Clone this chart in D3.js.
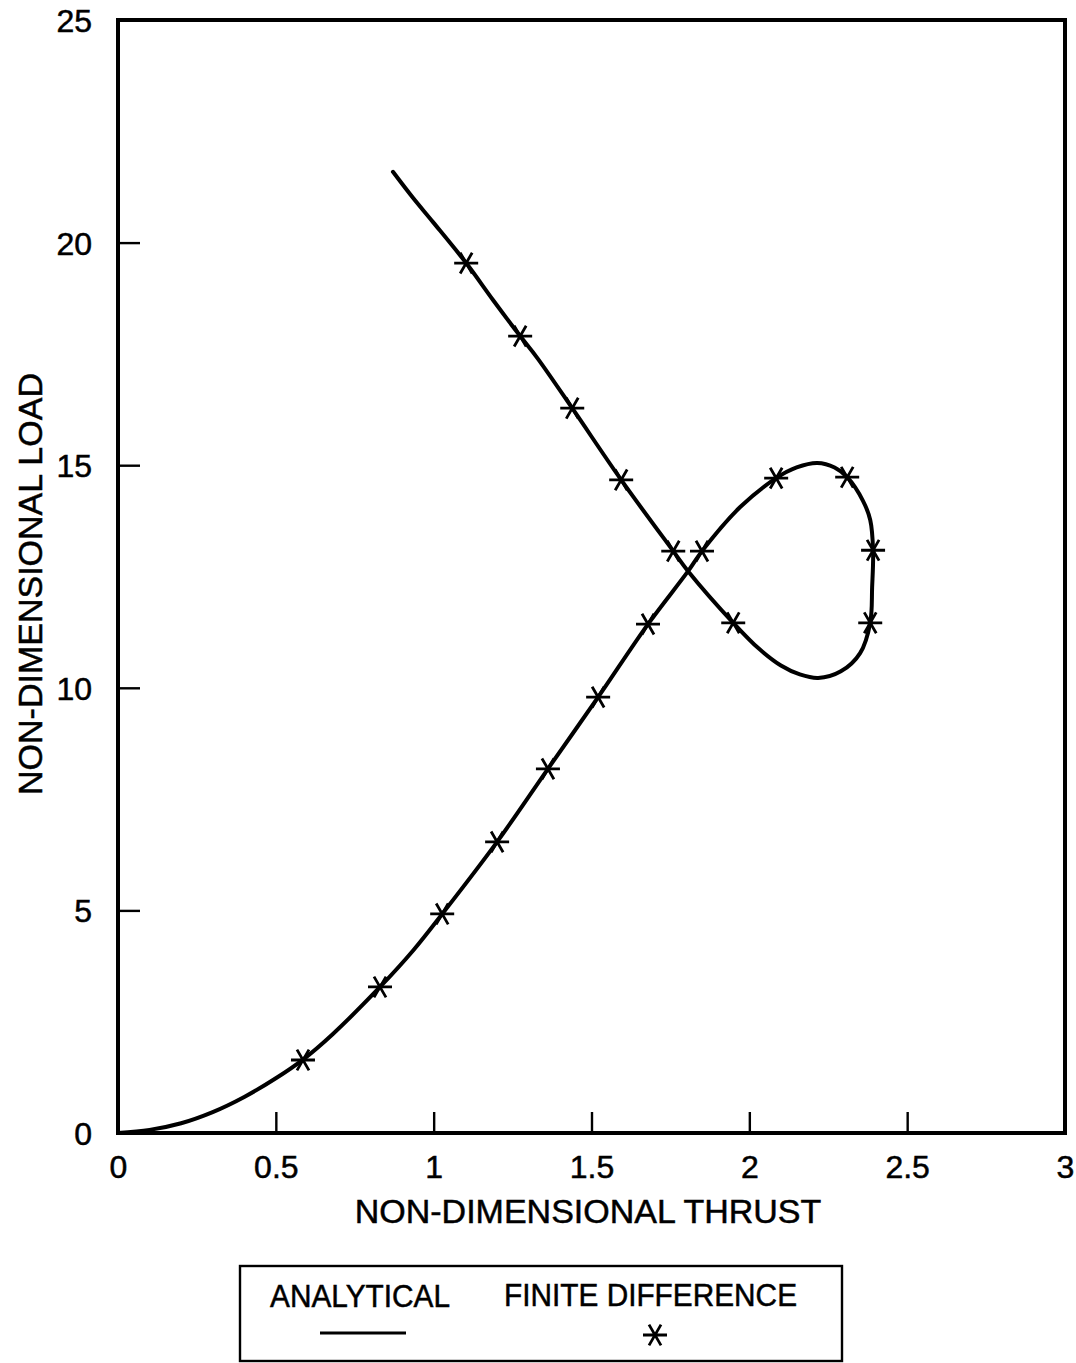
<!DOCTYPE html>
<html>
<head>
<meta charset="utf-8">
<script src="https://cdn.jsdelivr.net/npm/d3@7"></script>
<style>
  html, body { margin: 0; padding: 0; background: #fff; }
  svg { display: block; font-family: "Liberation Sans", Arial, Helvetica, sans-serif; }
  text { stroke: #000; stroke-width: 0.5px; }
</style>
</head>
<body>
<svg id="chart" width="1076" height="1363"></svg>
<script>
// ---- Data ----
// Analytical solution: thrust (x) and load (y)
const analyticalThrust = [0, 0.1, 0.2, 0.3, 0.4, 0.5, 0.586, 0.68, 0.83, 0.935, 1.027, 1.201, 1.362, 1.521,
  1.679, 1.806, 1.85, 1.971, 2.085, 2.15, 2.215, 2.27, 2.31, 2.36, 2.383, 2.392, 2.389, 2.383, 2.351, 2.29,
  2.218, 2.16, 2.1, 2.03, 1.949, 1.806, 1.759, 1.594, 1.439, 1.328, 1.274, 1.188, 1.103, 0.998, 0.935, 0.871];
const analyticalLoad = [0, 0.07, 0.22, 0.47, 0.81, 1.23, 1.65, 2.22, 3.28, 4.1, 4.92, 6.54, 8.18, 9.79,
  11.43, 12.62, 13.07, 14.06, 14.71, 14.95, 15.05, 14.95, 14.73, 14.2, 13.77, 13.09, 12.26, 11.46, 10.78, 10.37,
  10.22, 10.3, 10.5, 10.88, 11.46, 12.62, 13.07, 14.67, 16.28, 17.41, 17.9, 18.71, 19.54, 20.46, 21.0, 21.59];

// Finite difference points
const fdThrust = [0.586, 0.83, 1.027, 1.201, 1.362, 1.521, 1.679, 1.85, 2.085, 2.31, 2.392, 2.383,
  1.949, 1.759, 1.594, 1.439, 1.274, 1.103];
const fdLoad = [1.64, 3.28, 4.92, 6.54, 8.18, 9.79, 11.43, 13.07, 14.71, 14.73, 13.09, 11.46,
  11.46, 13.07, 14.67, 16.28, 17.9, 19.54];

const xTicks = [0, 0.5, 1, 1.5, 2, 2.5, 3];
const yTicks = [0, 5, 10, 15, 20, 25];
const xTickLabels = ["0", "0.5", "1", "1.5", "2", "2.5", "3"];
const yTickLabels = ["0", "5", "10", "15", "20", "25"];
const xTitle = "NON-DIMENSIONAL THRUST";
const yTitle = "NON-DIMENSIONAL LOAD";
const legendLabels = ["ANALYTICAL", "FINITE DIFFERENCE"];

// ---- Layout ----
const L = 118, R = 1065, T = 20, B = 1133;
const svg = d3.select("#chart");
const x = d3.scaleLinear().domain([0, 3]).range([L, R]);
const y = d3.scaleLinear().domain([0, 25]).range([B, T]);

// Axes (inward ticks)
const xAxis = d3.axisBottom(x).tickValues(xTicks).tickSizeInner(-21).tickSizeOuter(0)
  .tickPadding(26).tickFormat((d, i) => xTickLabels[i]);
const gx = svg.append("g").attr("transform", `translate(0,${B})`).call(xAxis);
gx.select(".domain").remove();
gx.selectAll(".tick line").attr("stroke", "#000").attr("stroke-width", 2.4);
gx.selectAll(".tick text").attr("fill", "#000").attr("font-size", 32)
  .attr("font-family", "'Liberation Sans', Arial, sans-serif").attr("dy", "0.71em").attr("y", 22);

const yAxis = d3.axisLeft(y).tickValues(yTicks).tickSizeInner(-22).tickSizeOuter(0)
  .tickPadding(26).tickFormat((d, i) => yTickLabels[i]);
const gy = svg.append("g").attr("transform", `translate(${L},0)`).call(yAxis);
gy.select(".domain").remove();
gy.selectAll(".tick line").attr("stroke", "#000").attr("stroke-width", 2.4);
gy.selectAll(".tick text").attr("fill", "#000").attr("font-size", 32)
  .attr("font-family", "'Liberation Sans', Arial, sans-serif").attr("x", -26).attr("dy", "0.36em");

// Frame
svg.append("rect").attr("x", L).attr("y", T).attr("width", R - L).attr("height", B - T)
  .attr("fill", "none").attr("stroke", "#000").attr("stroke-width", 4);

// Axis titles
svg.append("text").attr("x", 588).attr("y", 1223).attr("text-anchor", "middle")
  .attr("font-size", 34).attr("fill", "#000").text(xTitle);
svg.append("text").attr("transform", "translate(42,584) rotate(-90)").attr("text-anchor", "middle")
  .attr("font-size", 34).attr("fill", "#000").text(yTitle);

// Analytical curve
const pts = analyticalThrust.map((t, i) => [t, analyticalLoad[i]]);
const line = d3.line().x(d => x(d[0])).y(d => y(d[1])).curve(d3.curveCatmullRom.alpha(0.5));
svg.append("path").datum(pts).attr("d", line).attr("fill", "none")
  .attr("stroke", "#000").attr("stroke-width", 4).attr("stroke-linejoin", "round").attr("stroke-linecap", "round");

// Asterisk marker
function starPath(r) {
  const a = Math.PI / 3;
  let p = `M${-r},0L${r},0`;
  p += `M${-r * Math.cos(a)},${r * Math.sin(a)}L${r * Math.cos(a)},${-r * Math.sin(a)}`;
  p += `M${-r * Math.cos(a)},${-r * Math.sin(a)}L${r * Math.cos(a)},${r * Math.sin(a)}`;
  return p;
}
const fd = fdThrust.map((t, i) => [t, fdLoad[i]]);
svg.append("g").selectAll("path").data(fd).join("path")
  .attr("transform", d => `translate(${x(d[0])},${y(d[1])})`)
  .attr("d", starPath(12)).attr("fill", "none").attr("stroke", "#000").attr("stroke-width", 2.8);

// Legend
const lg = svg.append("g");
lg.append("rect").attr("x", 240).attr("y", 1266).attr("width", 602).attr("height", 95)
  .attr("fill", "none").attr("stroke", "#000").attr("stroke-width", 2.4);
lg.append("text").attr("x", 270).attr("y", 1307).attr("font-size", 32).attr("fill", "#000")
  .attr("textLength", 180).attr("lengthAdjust", "spacingAndGlyphs").text(legendLabels[0]);
lg.append("text").attr("x", 504).attr("y", 1306).attr("font-size", 32).attr("fill", "#000")
  .attr("textLength", 293).attr("lengthAdjust", "spacingAndGlyphs").text(legendLabels[1]);
lg.append("line").attr("x1", 320).attr("x2", 406).attr("y1", 1333).attr("y2", 1333)
  .attr("stroke", "#000").attr("stroke-width", 3);
lg.append("path").attr("transform", "translate(655,1335)").attr("d", starPath(12))
  .attr("fill", "none").attr("stroke", "#000").attr("stroke-width", 2.8);
</script>
</body>
</html>
